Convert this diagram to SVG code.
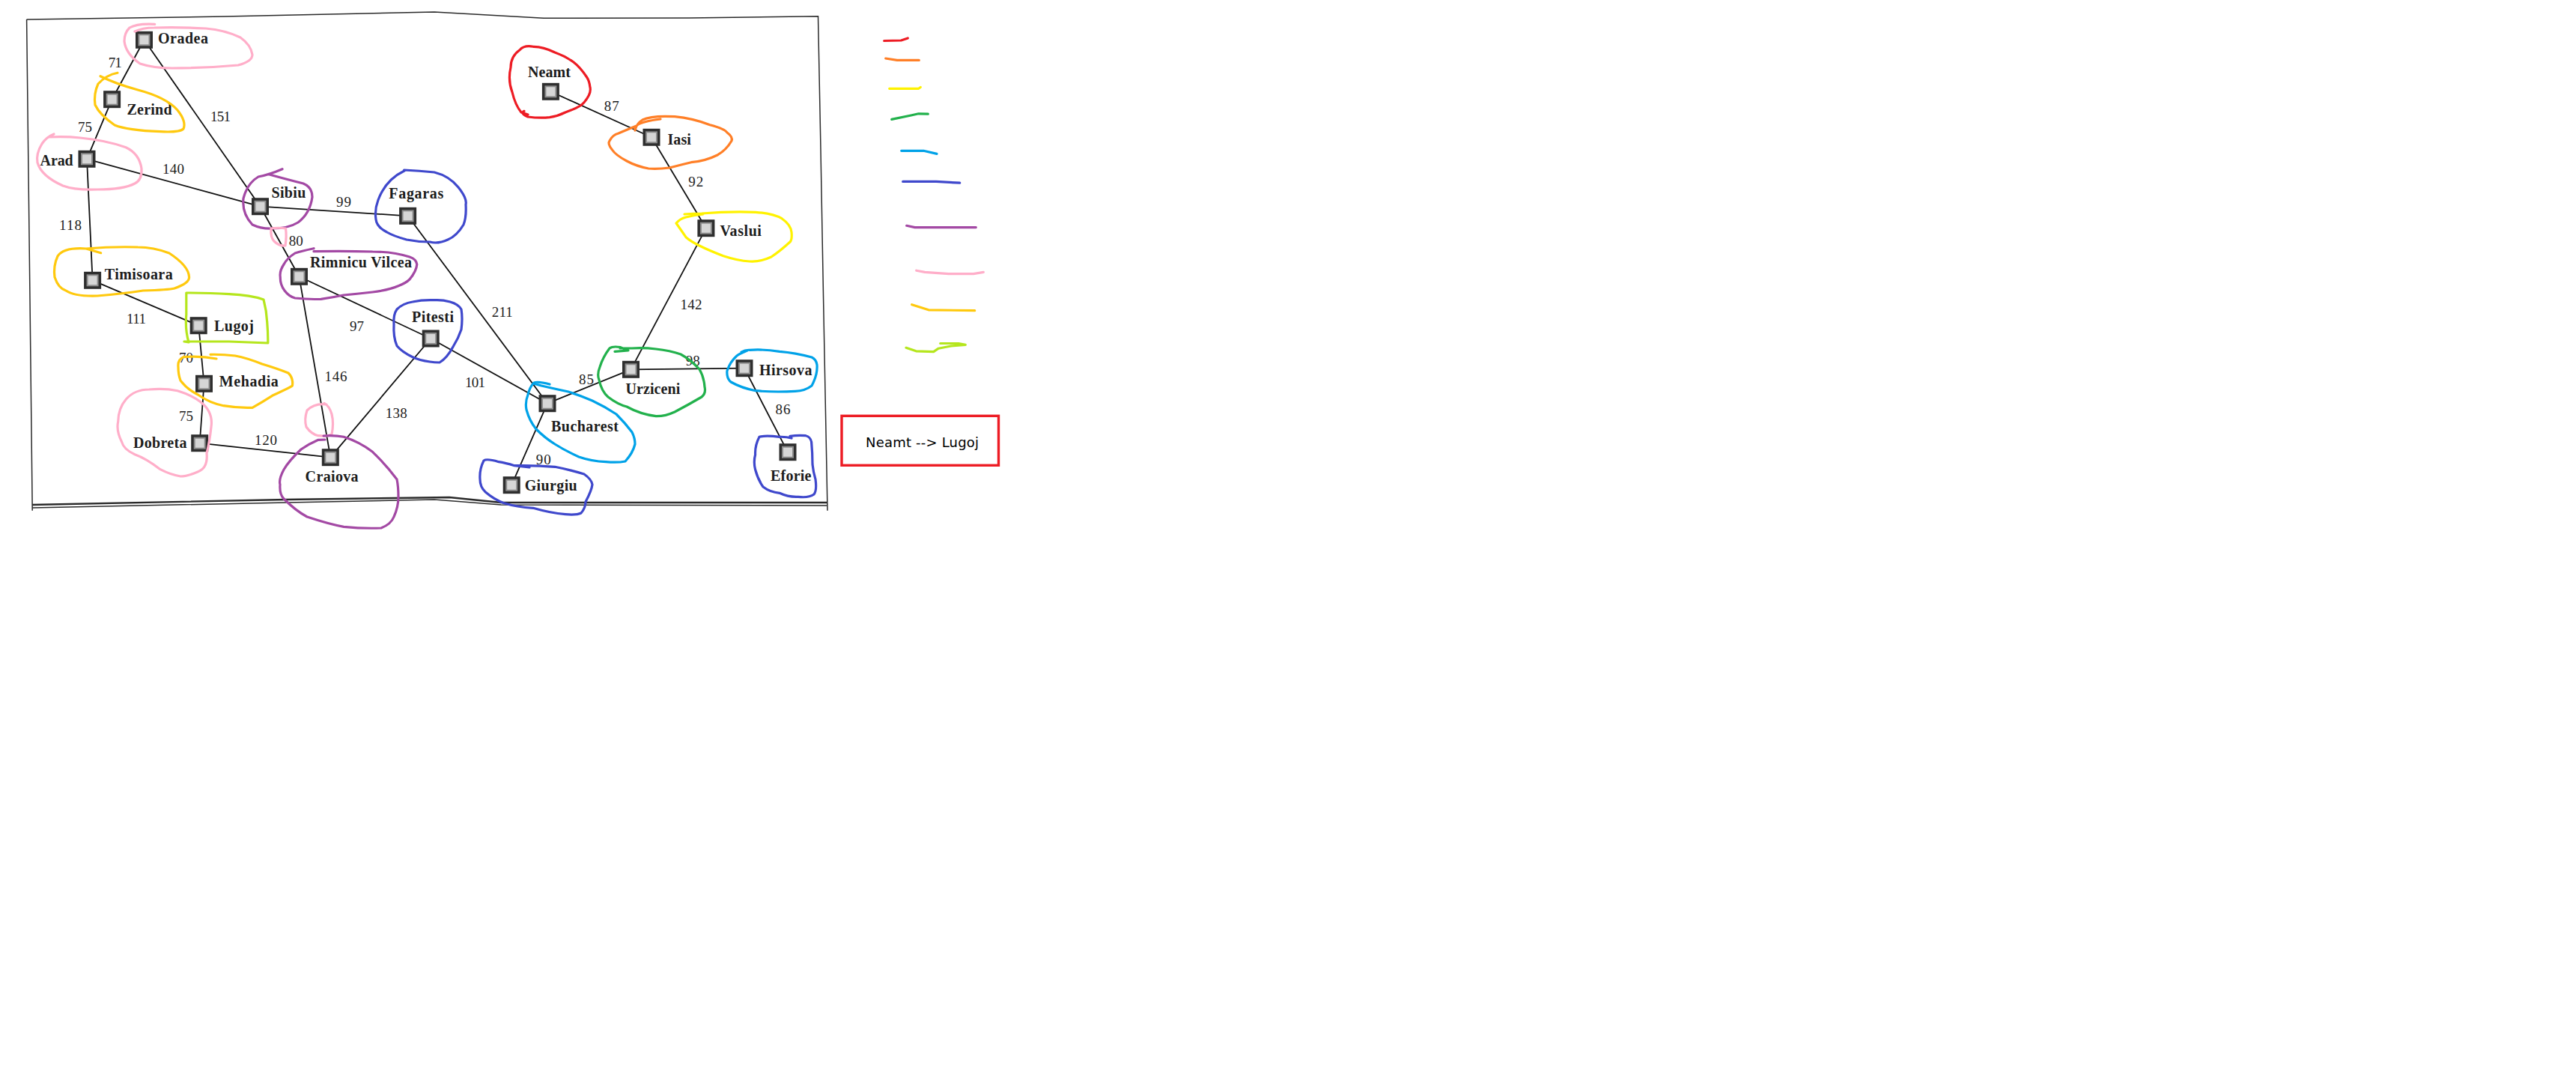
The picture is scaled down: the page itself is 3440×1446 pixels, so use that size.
<svg xmlns="http://www.w3.org/2000/svg" width="3440" height="1446" viewBox="0 0 3440 1446">
<style>
text{font-family:"Liberation Serif","Times New Roman",serif;fill:#1c1c1c}
.city{font-weight:700;font-size:20px}
.dist{font-size:19px}
.road{fill:none;stroke:#111;stroke-width:1.8;stroke-linecap:round}
.frame{fill:none;stroke:#2a2a2a;stroke-width:1.5}
.ink{fill:none;stroke-width:3.2;stroke-linecap:round;stroke-linejoin:round}
.red{stroke:#ed1c24}.org{stroke:#ff7f27}.yel{stroke:#fff200}.grn{stroke:#22b14c}.sky{stroke:#00a2e8}.blu{stroke:#3f48cc}.pur{stroke:#a349a4}.pnk{stroke:#ffaec9}.gld{stroke:#ffc90e}.lim{stroke:#b5e61d}
</style>
<defs>
<g id="sq"><rect x="-11.500" y="-11.500" width="23" height="23" fill="#2e2e2e"/><rect x="-8" y="-8" width="16" height="16" fill="#8c8c8c"/><rect x="-6" y="-6" width="12" height="12" fill="#d6d6d6"/></g>
</defs>
<rect width="3440" height="1446" fill="#fff"/>
<g id="page">
<path class="frame" d="M35.6 26 L300 22 L580 16 Q650 20 726 24.3 L920 24 L1092.5 21.7 L1096 200 L1099.6 400 L1105 681.7"/>
<path class="frame" d="M35.6 26 L40 400 L43.2 681.7"/>
<path class="frame" style="stroke-width:2.4" d="M43.2 674 L382.7 667 L600 664 L669 671 L1104 671"/>
<path class="frame" d="M43.2 678 L382.7 671 L580 667 L669 674 L1104 675"/>
</g>
<g id="connectors">
<path class="road" d="M192.500 53.300L149.600 132.700"/>
<path class="road" d="M149.600 132.700L116 212.300"/>
<path class="road" d="M192.500 53.300L347.500 275.700"/>
<path class="road" d="M116 212.300L347.500 275.700"/>
<path class="road" d="M116 212.300L123.600 374.300"/>
<path class="road" d="M123.600 374.300L265.200 434.700"/>
<path class="road" d="M265.200 434.700L272.500 512.300"/>
<path class="road" d="M272.500 512.300L266.700 591.700"/>
<path class="road" d="M266.700 591.700L441.300 610.700"/>
<path class="road" d="M347.500 275.700L544.600 288.300"/>
<path class="road" d="M347.500 275.700L399.500 369.300"/>
<path class="road" d="M399.500 369.300L441.300 610.700"/>
<path class="road" d="M399.500 369.300L575.200 452"/>
<path class="road" d="M575.200 452L441.300 610.700"/>
<path class="road" d="M575.200 452L731 538.700"/>
<path class="road" d="M544.600 288.300L731 538.700"/>
<path class="road" d="M731 538.700L842.500 493.300"/>
<path class="road" d="M731 538.700L683.200 647.700"/>
<path class="road" d="M842.500 493.300L942.900 304.700"/>
<path class="road" d="M942.900 304.700L870 183.300"/>
<path class="road" d="M870 183.300L735.400 122.300"/>
<path class="road" d="M842.500 493.300L994 491.700"/>
<path class="road" d="M994 491.700L1052 603.700"/>
</g>
<g id="distances">
<text class="dist" x="144.700" y="90" textLength="18">71</text>
<text class="dist" x="104" y="175.700" textLength="19">75</text>
<text class="dist" x="281" y="162.300" textLength="27">151</text>
<text class="dist" x="217" y="231.700" textLength="29">140</text>
<text class="dist" x="449" y="276" textLength="20">99</text>
<text class="dist" x="79" y="306.700" textLength="30">118</text>
<text class="dist" x="385.800" y="328.300" textLength="19">80</text>
<text class="dist" x="169" y="432.300" textLength="26">111</text>
<text class="dist" x="467" y="442.300" textLength="19">97</text>
<text class="dist" x="239" y="484.300" textLength="19">70</text>
<text class="dist" x="433.600" y="509" textLength="30">146</text>
<text class="dist" x="239" y="562.300" textLength="19">75</text>
<text class="dist" x="340" y="593.700" textLength="30">120</text>
<text class="dist" x="514.700" y="558" textLength="29">138</text>
<text class="dist" x="806.800" y="148.300" textLength="20">87</text>
<text class="dist" x="919.300" y="249" textLength="20">92</text>
<text class="dist" x="908.600" y="412.700" textLength="29">142</text>
<text class="dist" x="656.800" y="423.300" textLength="28">211</text>
<text class="dist" x="772.900" y="512.700" textLength="20">85</text>
<text class="dist" x="915.700" y="488.300" textLength="19">98</text>
<text class="dist" x="621" y="516.700" textLength="27">101</text>
<text class="dist" x="1035.400" y="553.300" textLength="20">86</text>
<text class="dist" x="715.700" y="620" textLength="20">90</text>
</g>
<g id="oradea"><use href="#sq" x="192.500" y="53.300"/><text class="city" x="211" y="58" textLength="67">Oradea</text><path class="ink pnk" d="M206.700 32.300Q183 31 173 37Q166 44 166 55Q168 72 187 85Q205 91 230 91Q275 91 318 87Q337 82 337 73Q335 60 321 50Q300 40 275 38Q240 36 206 37Q190 37 180 42"/></g>
<g id="zerind"><use href="#sq" x="149.600" y="132.700"/><text class="city" x="169.500" y="153" textLength="60">Zerind</text><path class="ink gld" d="M157 97.300Q142 100 131 112Q125 125 127 140Q133 153 153 167Q170 174 214 175.700Q240 177 245 172Q249 162 237 147Q222 130 184 120Q155 112 134 101.700"/></g>
<g id="arad"><use href="#sq" x="116" y="212.300"/><text class="city" x="53.600" y="220.700" textLength="44">Arad</text><path class="ink pnk" d="M72 179Q62 183 56 192Q48 205 50 217Q55 235 84 248Q100 254 130 253Q165 253 180 245Q190 240 189 225Q186 205 168 196.700Q140 187 107 184Q88 182 66 183"/></g>
<g id="sibiu"><use href="#sq" x="347.500" y="275.700"/><text class="city" x="362.400" y="264" textLength="46">Sibiu</text><path class="ink pur" d="M377 225.700Q360 233 345 236Q330 245 325 265Q323 285 337 300Q350 306 364 305Q385 305 398 297Q414 285 417 263Q417 250 405 245Q385 240 359.700 233"/><path class="ink pnk" d="M362 305Q361 317 366 322Q373 329 381 328Q383 315 381.500 305Q372 303.500 362 305"/></g>
<g id="fagaras"><use href="#sq" x="544.600" y="288.300"/><text class="city" x="519.300" y="265" textLength="73">Fagaras</text><path class="ink blu" d="M539.600 227Q560 228 580 230Q600 235 612 250Q624 265 622 273Q623 290 619 300Q610 315 598 320Q585 326 574 323Q558 323 543 320Q525 315 516.700 310Q503 303 502 293Q500 280 505 267Q515 240 540 228"/></g>
<g id="timisoara"><use href="#sq" x="123.600" y="374.300"/><text class="city" x="139.700" y="373.300" textLength="91">Timisoara</text><path class="ink gld" d="M134.700 337.700L115 332Q85 330 77 342Q71 355 73 370Q78 385 88 388Q100 396 130 395Q165 392 191 388Q225 387 233 385Q253 378 252.600 370Q252 355 226 338Q205 330 184 330Q150 329 115 332"/></g>
<g id="rimnicu"><use href="#sq" x="399.500" y="369.300"/><text class="city" x="414" y="357.300" textLength="136">Rimnicu Vilcea</text><path class="ink pur" d="M419 331.700Q403 335 394 338Q383 345 379 353Q373 362 374.300 370Q374 380 380 388Q386 396 394 398Q412 400 428.600 399.300Q445 397 459 394Q480 392 497.500 390Q520 387 532 381.700Q542 378 547 373Q556 362 556.800 353Q556 346 547 343Q525 336 497.500 336Q460 335 419 335.700"/></g>
<g id="lugoj"><use href="#sq" x="265.200" y="434.700"/><text class="city" x="286" y="441.700" textLength="53">Lugoj</text><path class="ink lim" d="M246 456L252 457Q247 440 248.800 420L248.800 391Q280 391 306 392.700Q335 394 352 400Q356 415 356.700 430Q358 445 357.800 458L306 456L246 456"/></g>
<g id="mehadia"><use href="#sq" x="272.500" y="512.300"/><text class="city" x="292.800" y="516" textLength="79">Mehadia</text><path class="ink gld" d="M289 479Q268 475 245 476.700Q237 480 238 490Q238 500 241 508Q250 520 264 526.700Q280 538 298.500 541.700Q318 545 337 544.300Q350 537 363.600 528.300Q388 517 390.400 515Q392 505 385 498Q370 492 350 486Q330 478 314 475Q298 473 281 473.300"/></g>
<g id="dobreta"><use href="#sq" x="266.700" y="591.700"/><text class="city" x="178" y="597.700" textLength="71.500">Dobreta</text><path class="ink pnk" d="M268 536.700Q285 550 282 570Q280 590 276 605Q278 625 264 630Q250 636 241 636Q228 634 214 626.700Q195 612 180 606.700Q165 600 162.600 590Q155 575 157.700 563Q158 545 168.400 533Q180 520 199 520Q220 518 237 521.700Q255 527 268 536.700"/></g>
<g id="craiova"><use href="#sq" x="441.300" y="610.700"/><text class="city" x="407.600" y="643.300" textLength="71">Craiova</text><path class="ink pnk" d="M436 540Q420 538 410 548Q406 560 409 570Q416 580 425 581.700Q437 583 443 580Q446 565 443 553Q440 542 433 538.300"/><path class="ink pur" d="M434 587L425 587.300Q412 593 402 600Q386 615 379 627Q372 640 374 647Q373 660 379 666Q395 682 410 690Q440 700 459 703.300Q485 706 509 705Q522 700 526 690Q532 677 532 663Q532 650 530 640Q515 620 497.500 603.300Q480 590 459 583.300Q447 581 432 582"/></g>
<g id="pitesti"><use href="#sq" x="575.200" y="452"/><text class="city" x="550" y="430" textLength="56">Pitesti</text><path class="ink blu" d="M530 413Q538 405 551 403Q565 400 580 400.700Q590 400 601 403Q612 406 616 413Q618 425 616 440Q612 452 605 463Q597 478 587 484Q580 484 574 483Q560 481 551 476.700Q537 470 530 461.700Q525 450 526 433Q525 420 530 413"/></g>
<g id="neamt"><use href="#sq" x="735.400" y="122.300"/><text class="city" x="705" y="103.300" textLength="57">Neamt</text><path class="ink red" d="M700 148.300Q694 151 705 156Q720 158 734 156.700Q745 155 755 150Q775 143 780 136.700Q790 125 788 116.700Q787 108 783.600 103Q775 90 766 83Q755 75 741 70Q725 62 712 62.300Q700 60 694 66.700Q682 75 682 90Q678 107 684 123Q688 140 696 150L705 153"/></g>
<g id="iasi"><use href="#sq" x="870" y="183.300"/><text class="city" x="891.400" y="193.300" textLength="31.500">Iasi</text><path class="ink org" d="M882 159Q858 162 851 167Q847 172 848 174Q850 165 858 160Q870 154 901 155.700Q925 158 948 166.700Q968 172 971 177Q979 183 977 188Q970 200 958.600 206.700Q942 215 923 216.700Q905 221 894 224Q878 226 866 225Q850 222 837 215Q822 207 817.500 200Q811 192 814 188Q818 180 826 178Q840 172 850 168"/></g>
<g id="vaslui"><use href="#sq" x="942.900" y="304.700"/><text class="city" x="961.400" y="315" textLength="55.500">Vaslui</text><path class="ink yel" d="M914 286Q926 285 937 285Q975 282 1009 283.300Q1032 285 1044 291.700Q1056 300 1057 310Q1058 320 1055 323Q1042 335 1030 343Q1015 350 1001 349Q985 348 966 341.700Q948 335 934 328Q922 322 916 316.700Q908 305 903 298Q908 292 916 290Q928 287 939 286"/></g>
<g id="bucharest"><use href="#sq" x="731" y="538.700"/><text class="city" x="736" y="575.700" textLength="90">Bucharest</text><path class="ink sky" d="M734 513Q715 508 712 512Q707 518 705 527Q701 537 703 547Q707 562 716 573Q728 585 741 593Q757 603 773 610Q790 616 809 616.700Q825 618 835 616Q845 605 848 593Q848 585 844 577Q835 565 823 553Q808 543 791 535Q775 528 759 523Q740 519 723 515Q716 513 712 512"/></g>
<g id="urziceni"><use href="#sq" x="842.500" y="493.300"/><text class="city" x="835.400" y="525.700" textLength="73">Urziceni</text><path class="ink grn" d="M821 469.300L839 468L828 463.500Q818 462 814 465Q805 477 801 490Q797 500 800 507Q803 522 812 530Q825 540 837 543Q855 553 876 555.700Q888 556 901 550Q920 540 937 530Q943 525 941 516.700Q940 503 934 493Q922 480 909 473Q895 468 876 466Q860 464 844 465L828 465"/></g>
<g id="hirsova"><use href="#sq" x="994" y="491.700"/><text class="city" x="1013.900" y="501" textLength="70.500">Hirsova</text><path class="ink sky" d="M998 468Q988 472 984 475Q975 483 971 495Q970 505 976 510Q990 518 1009 521.700Q1035 524 1062 522.300Q1075 522 1084 515Q1092 500 1091 487Q1090 480 1084 477Q1062 471 1041 469.300Q1020 466 1001 467.300Q995 467 990 470"/></g>
<g id="eforie"><use href="#sq" x="1052" y="603.700"/><text class="city" x="1029" y="641.700" textLength="54.500">Eforie</text><path class="ink blu" d="M1057 585Q1050 583 1041 583.300Q1022 581 1014 583.300Q1008 595 1008.600 607Q1006 617 1008.600 627Q1012 640 1019 650Q1028 657 1041 658.300Q1053 664 1066 663.300Q1080 665 1087 660Q1091 655 1089 640Q1086 630 1085 620Q1085 605 1083.600 590Q1082 583 1076 581.700Q1065 581 1055 582.300"/></g>
<g id="giurgiu"><use href="#sq" x="683.200" y="647.700"/><text class="city" x="700.700" y="655" textLength="70">Giurgiu</text><path class="ink blu" d="M707 624L687 621.700Q675 618 666 616.700Q650 612 646 615Q640 627 641 640Q641 650 648 656.700Q660 667 673 671.700Q690 677 712 678.300Q735 685 755 686.700Q770 688 776 685Q782 678 782 670Q790 655 791 647Q790 640 780 633Q760 627 741 623.300Q715 621 687 621.700"/></g>
<g id="legend">
<path class="ink red" d="M1180.700 54.500L1203.300 54L1212.300 50.900"/>
<path class="ink org" d="M1182.700 78L1198 80.400L1227.300 80.400"/>
<path class="ink yel" d="M1187.700 118.300L1226.700 118.300L1229.300 116.500"/>
<path class="ink grn" d="M1190.700 159.400L1216.700 154L1226.700 151.800L1239.300 152.200"/>
<path class="ink sky" d="M1203.700 201.300L1233.300 201.300L1251 205.400"/>
<path class="ink blu" d="M1205.700 242.400L1250 242.400L1281.700 244.200"/>
<path class="ink pur" d="M1210.700 301.300L1221.700 303.600L1303.300 303.600"/>
<path class="ink pnk" d="M1223.700 361.200L1235 363.400L1266.700 365.600L1300 365.600L1313.300 363.400"/>
<path class="ink gld" d="M1217.700 406.700L1240 413.800L1301.700 414.700"/>
<path class="ink lim" d="M1210 464.300L1223.300 468.800L1246.700 469.600L1253.300 465.200L1270 462L1289.300 460.300L1280 458.500L1255.700 458.500"/>
</g>
<g id="query">
<rect x="1124" y="555.300" width="209.500" height="66" fill="#fff" stroke="#ed1c24" stroke-width="3.400"/>
<text x="1156" y="597" font-size="18" style="font-family:'DejaVu Sans',sans-serif;fill:#000" textLength="151">Neamt --&gt; Lugoj</text>
</g>
</svg>
